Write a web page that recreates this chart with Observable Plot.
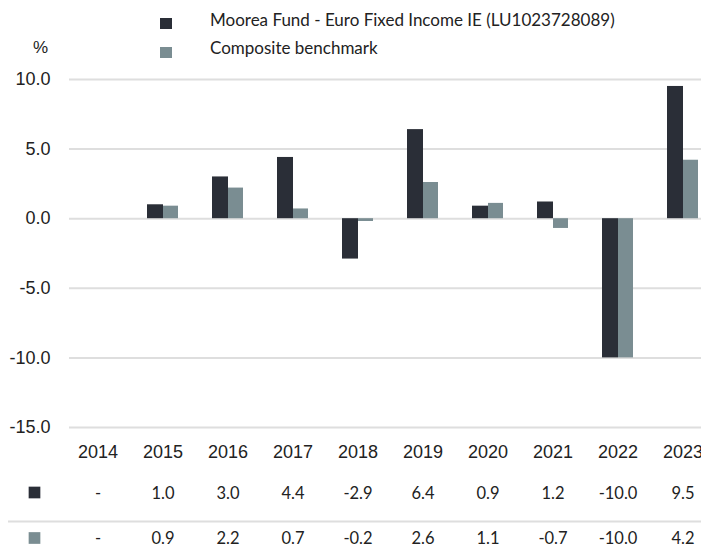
<!DOCTYPE html>
<html>
<head>
<meta charset="utf-8">
<script src="https://cdn.jsdelivr.net/npm/d3@7"></script>
<script src="https://cdn.jsdelivr.net/npm/@observablehq/plot@0.6"></script>
<style>
  body { margin: 0; background: #fff; }
  #wrap { width: 701px; }
  #legend { position: relative; height: 66px; font-family: Lato, "Noto Sans", sans-serif; font-size: 17px; color: #222; }
  #legend .sq { position: absolute; width: 12px; height: 11px; }
  #legend .lb { position: absolute; left: 210px; line-height: 20px; white-space: nowrap; }
  #legend .pct { position: absolute; left: 33px; top: 38px; font-family: "Liberation Sans", Arial, sans-serif; font-size: 17px; line-height: 20px; }
  svg { display: block; }
</style>
</head>
<body>
<div id="wrap">
  <div id="legend"></div>
  <div id="chart"></div>
</div>
<script>
const years = ["2014","2015","2016","2017","2018","2019","2020","2021","2022","2023"];
const fundValues = [null, 1.0, 3.0, 4.4, -2.9, 6.4, 0.9, 1.2, -10.0, 9.5];
const benchValues = [null, 0.9, 2.2, 0.7, -0.2, 2.6, 1.1, -0.7, -10.0, 4.2];
const seriesNames = ["Moorea Fund - Euro Fixed Income IE (LU1023728089)", "Composite benchmark"];
const seriesColors = ["#2a2e37", "#7a8d92"];
const yTicks = [-15, -10, -5, 0, 5, 10];
const yUnit = "%";

// legend
const legend = document.getElementById("legend");
legend.innerHTML = `
  <div class="pct">${yUnit}</div>
  <div class="sq" style="left:160px;top:18px;background:${seriesColors[0]}"></div>
  <div class="lb" style="top:10px">${seriesNames[0]}</div>
  <div class="sq" style="left:160px;top:47px;background:${seriesColors[1]}"></div>
  <div class="lb" style="top:38px">${seriesNames[1]}</div>`;

const fund = years.map((y, i) => ({year: y, value: fundValues[i]}));
const bench = years.map((y, i) => ({year: y, value: benchValues[i]}));
const fmt = v => v == null ? "-" : v.toFixed(1);

const chart = Plot.plot({
  width: 701,
  height: 485,
  marginTop: 13,
  marginBottom: 124,
  marginLeft: 69,
  marginRight: 0,
  style: {fontFamily: "'Liberation Sans', Arial, sans-serif", fontSize: "18px", color: "#222", background: "#fff"},
  x: {type: "band", domain: years, paddingInner: 0.525, paddingOuter: 0.105, align: 0.78, tickSize: 0, tickPadding: 18, label: null},
  y: {domain: [-15, 10], ticks: yTicks, tickFormat: d => d.toFixed(1), tickSize: 0, tickPadding: 19, label: null},
  marks: [
    Plot.ruleY(yTicks, {stroke: "#dedede", strokeWidth: 2}),
    Plot.barY(fund.filter(d => d.value != null), {x: "year", y: "value", fill: seriesColors[0], insetRight: 15}),
    Plot.barY(bench.filter(d => d.value != null), {x: "year", y: "value", fill: seriesColors[1], insetLeft: 16}),
    // data table
    Plot.text(fund, {x: "year", text: d => fmt(d.value), frameAnchor: "bottom", dy: 71, fontFamily: "Lato, 'Noto Sans', sans-serif", fontSize: 16.5, fill: "#222"}),
    Plot.text(bench, {x: "year", text: d => fmt(d.value), frameAnchor: "bottom", dy: 116.5, fontFamily: "Lato, 'Noto Sans', sans-serif", fontSize: 16.5, fill: "#222"}),
    Plot.ruleY([-15], {dy: 94, insetLeft: -61, stroke: "#dedede", strokeWidth: 2}),
    Plot.dot([seriesNames[0]], {frameAnchor: "bottom-left", dx: -35, dy: 65, symbol: "square", r: 6.6, fill: seriesColors[0], stroke: null}),
    Plot.dot([seriesNames[1]], {frameAnchor: "bottom-left", dx: -35, dy: 110.5, symbol: "square", r: 6.6, fill: seriesColors[1], stroke: null})
  ]
});
document.getElementById("chart").appendChild(chart);
</script>
</body>
</html>
